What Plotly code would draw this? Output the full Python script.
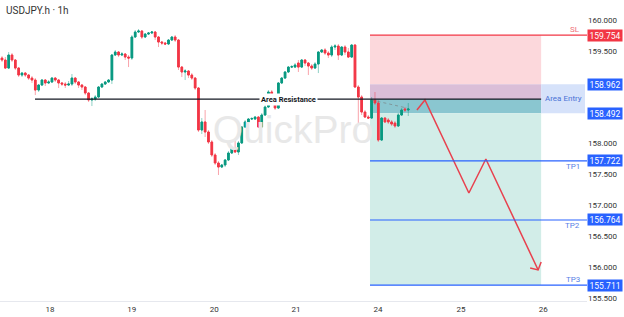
import plotly.graph_objects as go

symbol_title = "USDJPY.h · 1h"
watermark = "QuickPro"

open_ = [159.385, 159.353, 159.223, 159.434, 159.353, 159.223, 159.110, 159.142, 159.110, 159.061,
         159.029, 158.867, 158.948, 159.029, 158.981, 158.997, 159.061, 159.029, 158.981, 158.964,
         158.948, 158.964, 159.061, 158.997, 158.948, 158.916, 158.819, 158.706, 158.722, 158.754,
         158.916, 158.964, 158.997, 159.029, 159.434, 159.482, 159.434, 159.450, 159.401, 159.385,
         159.725, 159.806, 159.822, 159.725, 159.773, 159.790, 159.806, 159.725, 159.644, 159.628,
         159.612, 159.676, 159.725, 159.676, 159.239, 159.159, 159.175, 159.110, 159.061, 158.900,
         158.220, 158.350, 158.188, 158.026, 157.816, 157.686, 157.621, 157.654, 157.735, 157.848,
         157.929, 157.864, 158.010, 158.269, 158.350, 158.398, 158.398, 158.430, 158.269, 158.463,
         158.592, 158.835, 158.673, 158.576, 158.981, 159.061, 159.159, 159.239, 159.239, 159.304,
         159.239, 159.353, 159.304, 159.256, 159.223, 159.288, 159.482, 159.515, 159.466, 159.434,
         159.563, 159.579, 159.434, 159.563, 159.482, 159.401, 159.595, 158.916, 158.754, 158.511,
         158.430, 158.414, 158.706, 158.657, 158.058, 158.414, 158.382, 158.350, 158.333, 158.285,
         158.463, 158.560, 158.544]
high = [159.417, 159.401, 159.482, 159.466, 159.369, 159.239, 159.159, 159.159, 159.126, 159.094,
        159.061, 158.964, 159.045, 159.045, 159.029, 159.078, 159.078, 159.045, 158.997, 158.997,
        159.013, 159.126, 159.078, 159.013, 158.964, 158.932, 158.835, 158.754, 158.786, 158.932,
        158.981, 159.013, 159.045, 159.450, 159.515, 159.498, 159.482, 159.466, 159.434, 159.757,
        159.838, 159.854, 159.838, 159.790, 159.806, 159.822, 159.822, 159.741, 159.660, 159.644,
        159.693, 159.741, 159.757, 159.693, 159.256, 159.207, 159.191, 159.142, 159.078, 158.916,
        158.414, 158.544, 158.220, 158.058, 157.848, 157.718, 157.670, 157.751, 157.880, 157.945,
        158.058, 158.042, 158.285, 158.382, 158.414, 158.430, 158.447, 158.447, 158.495, 158.625,
        158.867, 158.867, 158.738, 158.997, 159.078, 159.175, 159.256, 159.272, 159.304, 159.353,
        159.369, 159.369, 159.320, 159.288, 159.320, 159.498, 159.531, 159.547, 159.498, 159.595,
        159.612, 159.612, 159.579, 159.595, 159.547, 159.612, 159.612, 158.948, 158.786, 158.544,
        158.463, 158.754, 158.835, 158.706, 158.430, 158.430, 158.414, 158.382, 158.366, 158.495,
        158.576, 158.592, 158.657]
low = [159.320, 159.207, 159.207, 159.320, 159.191, 159.078, 159.078, 159.078, 159.029, 158.981,
       158.786, 158.835, 158.932, 158.932, 158.964, 158.981, 158.997, 158.900, 158.932, 158.900,
       158.932, 158.932, 158.964, 158.900, 158.867, 158.786, 158.673, 158.608, 158.689, 158.738,
       158.900, 158.948, 158.981, 158.964, 159.417, 159.401, 159.417, 159.353, 159.239, 159.353,
       159.709, 159.790, 159.693, 159.709, 159.757, 159.773, 159.676, 159.563, 159.595, 159.595,
       159.595, 159.660, 159.644, 159.191, 159.078, 159.029, 159.061, 159.029, 158.867, 158.188,
       158.155, 158.107, 157.994, 157.783, 157.654, 157.492, 157.605, 157.621, 157.718, 157.832,
       157.848, 157.816, 157.994, 158.252, 158.333, 158.382, 158.382, 158.252, 158.252, 158.447,
       158.576, 158.641, 158.544, 158.560, 158.964, 159.045, 159.142, 159.223, 159.223, 159.159,
       159.223, 159.256, 159.110, 159.191, 159.207, 159.142, 159.466, 159.434, 159.385, 159.401,
       159.515, 159.353, 159.417, 159.434, 159.385, 159.385, 158.900, 158.333, 158.463, 158.414,
       158.398, 158.398, 158.625, 158.026, 158.042, 158.333, 158.317, 158.285, 158.252, 158.269,
       158.447, 158.511, 158.447]
close = [159.353, 159.223, 159.434, 159.353, 159.223, 159.110, 159.142, 159.110, 159.061, 159.029,
         158.867, 158.948, 159.029, 158.981, 158.997, 159.061, 159.029, 158.981, 158.964, 158.948,
         158.964, 159.061, 158.997, 158.948, 158.916, 158.819, 158.706, 158.722, 158.754, 158.916,
         158.964, 158.997, 159.029, 159.434, 159.482, 159.434, 159.450, 159.401, 159.385, 159.725,
         159.806, 159.822, 159.725, 159.773, 159.790, 159.806, 159.725, 159.644, 159.628, 159.612,
         159.676, 159.725, 159.676, 159.239, 159.159, 159.175, 159.110, 159.061, 158.900, 158.220,
         158.350, 158.188, 158.026, 157.816, 157.686, 157.621, 157.654, 157.735, 157.848, 157.929,
         157.864, 158.010, 158.269, 158.350, 158.398, 158.405, 158.430, 158.269, 158.463, 158.592,
         158.835, 158.673, 158.576, 158.981, 159.061, 159.159, 159.239, 159.245, 159.272, 159.239,
         159.353, 159.304, 159.256, 159.223, 159.288, 159.482, 159.515, 159.466, 159.434, 159.563,
         159.579, 159.434, 159.563, 159.482, 159.401, 159.595, 158.916, 158.754, 158.511, 158.430,
         158.414, 158.706, 158.657, 158.058, 158.414, 158.350, 158.350, 158.317, 158.285, 158.463,
         158.544, 158.544, 158.560]

day_labels = ["18", "19", "20", "21", "24", "25", "26"]
day_bar_pos = [14.4, 39.0, 63.7, 88.3, 112.9, 137.8, 162.5]

resistance_level = 158.72
resistance_start_bar = 9.9
resistance_label_bar = 85.9
position_start_bar = 110.5
position_end_bar = 161.9
sl_level = 159.754
entry_top = 158.962
entry_bottom = 158.492
tp_levels = [157.722, 156.764, 155.711]
tp_names = ["TP1", "TP2", "TP3"]

projection_bars = [124.6, 127.0, 140.2, 145.3, 161.0]
projection_prices = [158.544, 158.706, 157.201, 157.751, 155.955]
arrowhead_bars = [158.6, 161.0, 161.9]
arrowhead_prices = [155.987, 155.955, 156.084]

dotted_bars = [111, 121.6]
dotted_prices = [158.706, 158.576]

price_ticks = [155.5, 156.0, 156.5, 157.0, 157.5, 158.0, 159.5, 160.0]
y_range = [155.453, 160.324]
x_range = [-0.6, 175.67]

UP = "#089981"
DOWN = "#f23645"
BLUE = "#2962ff"
FONT = "Roboto, Arial, sans-serif"

bars = list(range(len(close)))
body_hi = [max(o, c) for o, c in zip(open_, close)]
body_lo = [min(o, c) for o, c in zip(open_, close)]

fig = go.Figure()

# watermark (behind candles)
fig.add_trace(go.Scatter(x=[87.4], y=[158.172], mode="text", text=[watermark],
                         textfont=dict(size=39, color="#e8e8e8", family="Arial"),
                         hoverinfo="skip", showlegend=False))

# wicks (pale)
fig.add_trace(go.Candlestick(x=bars, open=open_, high=high, low=low, close=close,
                             increasing=dict(line=dict(color="rgba(8,153,129,0.45)", width=1),
                                             fillcolor="rgba(8,153,129,0.45)"),
                             decreasing=dict(line=dict(color="rgba(242,54,69,0.45)", width=1),
                                             fillcolor="rgba(242,54,69,0.45)"),
                             whiskerwidth=0, showlegend=False, hoverinfo="skip"))
# bodies (solid)
fig.add_trace(go.Candlestick(x=bars, open=open_, high=body_hi, low=body_lo, close=close,
                             increasing=dict(line=dict(color=UP, width=1), fillcolor=UP),
                             decreasing=dict(line=dict(color=DOWN, width=1), fillcolor=DOWN),
                             whiskerwidth=0, showlegend=False, hoverinfo="skip"))

# dotted path inside entry area
fig.add_trace(go.Scatter(x=dotted_bars, y=dotted_prices, mode="lines",
                         line=dict(color="rgba(120,120,120,0.6)", width=1, dash="dot"),
                         hoverinfo="skip", showlegend=False))

# projection arrow
fig.add_trace(go.Scatter(x=projection_bars, y=projection_prices, mode="lines",
                         line=dict(color="#e8414e", width=1.5), hoverinfo="skip", showlegend=False))
fig.add_trace(go.Scatter(x=arrowhead_bars, y=arrowhead_prices, mode="lines",
                         line=dict(color="#e8414e", width=1.5), hoverinfo="skip", showlegend=False))

shapes = []
def rect(x0, x1, y0, y1, color, xref="x"):
    shapes.append(dict(type="rect", xref=xref, yref="y", x0=x0, x1=x1, y0=y0, y1=y1,
                       fillcolor=color, line=dict(width=0), layer="below"))

rect(position_start_bar, position_end_bar, entry_top, sl_level, "#fcd8dc")
rect(position_start_bar, position_end_bar, resistance_level, entry_top, "#dabed8")
rect(position_start_bar, position_end_bar, entry_bottom, resistance_level, "#8ac6d0")
rect(position_start_bar, position_end_bar, tp_levels[-1], entry_bottom, "#d2ede8")
rect(position_end_bar, x_range[1] - 0.6, entry_bottom, entry_top, "#d6e2fa")

# SL line
shapes.append(dict(type="line", xref="x", yref="y", x0=position_start_bar, x1=x_range[1],
                   y0=sl_level, y1=sl_level, line=dict(color=DOWN, width=1.2), layer="above"))
for lv in tp_levels:
    shapes.append(dict(type="line", xref="x", yref="y", x0=position_start_bar, x1=x_range[1],
                       y0=lv, y1=lv, line=dict(color=BLUE, width=1.2), layer="above"))
# resistance line
shapes.append(dict(type="line", xref="x", yref="y", x0=resistance_start_bar, x1=position_end_bar,
                   y0=resistance_level, y1=resistance_level,
                   line=dict(color="#131722", width=1.3), layer="above"))

annotations = []
annotations.append(dict(text=symbol_title, xref="paper", yref="paper", x=0, y=1,
                        xanchor="left", yanchor="top", xshift=4, yshift=-3, showarrow=False,
                        font=dict(size=10, color="#333333", family=FONT)))
annotations.append(dict(text="<b>Area Resistance</b>", xref="x", yref="y", x=resistance_label_bar,
                        y=resistance_level, showarrow=False, bgcolor="white", borderpad=1,
                        font=dict(size=7.5, color="#131722", family=FONT)))
annotations.append(dict(text="Area Entry", xref="paper", yref="y", x=1, y=(entry_top + entry_bottom) / 2,
                        xanchor="right", xshift=-3, showarrow=False,
                        font=dict(size=8, color="#4a72d6", family=FONT)))
annotations.append(dict(text="SL", xref="paper", yref="y", x=1, y=sl_level, xanchor="right",
                        xshift=-5, yshift=6, showarrow=False,
                        font=dict(size=8, color="#f0707a", family=FONT)))
for name, lv in zip(tp_names, tp_levels):
    ys = 6 if name == "TP3" else -6
    annotations.append(dict(text=name, xref="paper", yref="y", x=1, y=lv, xanchor="right",
                            xshift=-5, yshift=ys, showarrow=False,
                            font=dict(size=8, color="#5a82e6", family=FONT)))

# price labels on the axis
for lv, col in [(sl_level, DOWN), (entry_top, BLUE), (entry_bottom, BLUE)] + [(t, BLUE) for t in tp_levels]:
    annotations.append(dict(text=f"{lv:.3f}", xref="paper", yref="y", x=1, y=lv, xanchor="left",
                            showarrow=False, bgcolor=col, width=34, height=11, borderpad=0,
                            font=dict(size=8.5, color="white", family=FONT)))

fig.update_layout(
    width=624, height=317, margin=dict(l=0, r=37, t=0, b=16),
    paper_bgcolor="white", plot_bgcolor="white", template="none",
    shapes=shapes, annotations=annotations, showlegend=False,
    xaxis=dict(range=x_range, tickvals=day_bar_pos, ticktext=day_labels, showgrid=False,
               zeroline=False, showline=True, linecolor="#e6e8ee", linewidth=1, ticks="",
               tickfont=dict(size=8, color="#333333", family=FONT), rangeslider=dict(visible=False),
               automargin=False, fixedrange=True),
    yaxis=dict(range=y_range, side="right", tickvals=price_ticks,
               ticktext=[f"{v:.3f}" for v in price_ticks], showgrid=False, zeroline=False,
               showline=False, ticks="", tickfont=dict(size=8, color="#333333", family=FONT),
               automargin=False, fixedrange=True),
)

fig.write_html("out.html")
